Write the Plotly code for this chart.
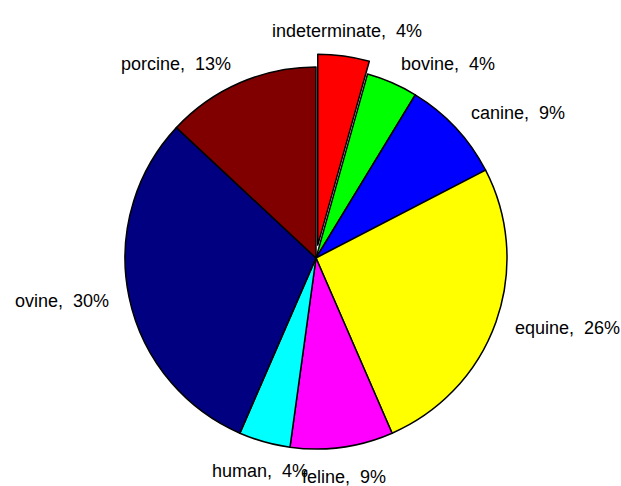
import math
import plotly.graph_objects as go

labels = ["indeterminate", "bovine", "canine", "equine", "feline", "human", "ovine", "porcine"]
counts = [1, 1, 2, 6, 2, 1, 7, 3]
colors = ["#FF0000", "#00FF00", "#0000FF", "#FFFF00", "#FF00FF", "#00FFFF", "#000080", "#800000"]
pulls = [0.068, 0, 0, 0, 0, 0, 0, 0]

W, H = 621, 486
cx, cy, R = 316, 258, 191  # pie centre / radius in px
maxpull = max(pulls)
half = R * (1 + maxpull)

fig = go.Figure(go.Pie(
    labels=labels, values=counts, sort=False, direction="clockwise", rotation=0,
    marker=dict(colors=colors, line=dict(color="black", width=1.5)),
    pull=pulls, textinfo="none", hoverinfo="label+percent", showlegend=False,
    domain=dict(x=[(cx - half) / W, (cx + half) / W],
                y=[(H - cy - half) / H, (H - cy + half) / H]),
))

total = sum(counts)
annotations = []
cum = 0
for lab, v, p in zip(labels, counts, pulls):
    mid = (cum + v / 2) / total * 2 * math.pi
    cum += v
    s, c = math.sin(mid), math.cos(mid)
    r = R * (1 + p) + 18 + (5 if p > 0 else 0)
    px, py = cx + r * s, cy - r * c
    xa = "left" if s > 0.3 else ("right" if s < -0.3 else "center")
    ya = "bottom" if c > 0.5 else ("top" if c < -0.5 else "middle")
    if ya == "bottom":
        py += 10
    pct = round(100 * v / total)
    annotations.append(dict(
        x=px / W, y=1 - py / H, xref="paper", yref="paper",
        text=f"{lab},\u00a0 {pct}%", showarrow=False, xanchor=xa, yanchor=ya,
        font=dict(family="Liberation Sans, Arial, sans-serif", size=18, color="black"),
    ))

fig.update_layout(
    width=W, height=H, margin=dict(l=0, r=0, t=0, b=0),
    paper_bgcolor="white", plot_bgcolor="white", annotations=annotations,
)
fig.write_html("out.html", config={"displayModeBar": False},
               post_script="document.body.style.margin='0';document.body.style.overflow='hidden';")
